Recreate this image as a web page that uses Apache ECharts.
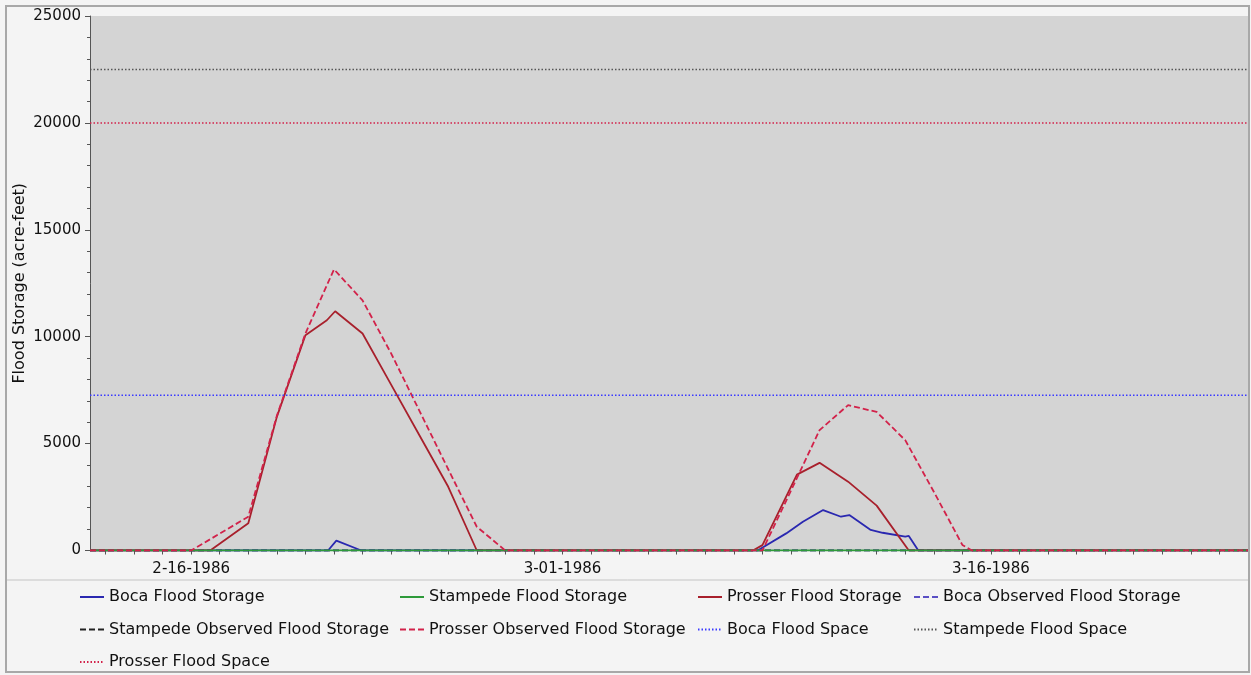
<!DOCTYPE html>
<html>
<head>
<meta charset="utf-8">
<script src="https://cdn.jsdelivr.net/npm/echarts@6/dist/echarts.min.js"></script>
<style>
html,body{margin:0;padding:0;background:#f4f4f4;}
#chart{width:1251px;height:675px;}
</style>
</head>
<body>
<div id="chart"></div>
<script>
// ---- data (date-time, acre-feet) ----
const xStart = '1986-02-12 11:00';
const xEnd = '1986-03-25 00:00';
const labelDates = ['1986-02-16', '1986-03-01', '1986-03-16'];
const yTicks = [0, 5000, 10000, 15000, 20000, 25000];

const bocaStorage = [
  ['1986-02-12 11:00', 0], ['1986-02-20 19:00', 0], ['1986-02-21 02:00', 460], ['1986-02-21 23:00', 0],
  ['1986-03-07 20:00', 0], ['1986-03-08 20:00', 800], ['1986-03-09 10:00', 1345], ['1986-03-10 03:00', 1890],
  ['1986-03-10 18:00', 1580], ['1986-03-11 01:00', 1660], ['1986-03-11 19:00', 960], ['1986-03-12 05:00', 830],
  ['1986-03-13 00:00', 645], ['1986-03-13 03:00', 680], ['1986-03-13 11:00', 0], ['1986-03-25 00:00', 0]
];
const stampedeStorage = [['1986-02-12 11:00', 0], ['1986-03-25 00:00', 0]];
const prosserStorage = [
  ['1986-02-12 11:00', 0], ['1986-02-16 16:00', 0], ['1986-02-18 00:00', 1270], ['1986-02-19 00:00', 6250],
  ['1986-02-20 00:00', 10070], ['1986-02-20 18:00', 10770], ['1986-02-21 01:00', 11190], ['1986-02-22 00:00', 10150],
  ['1986-02-23 00:00', 7760], ['1986-02-24 00:00', 5370], ['1986-02-25 00:00', 2980], ['1986-02-26 00:00', 0],
  ['1986-03-07 16:00', 0], ['1986-03-08 00:00', 250], ['1986-03-09 05:00', 3550], ['1986-03-10 00:00', 4100],
  ['1986-03-11 00:00', 3220], ['1986-03-12 00:00', 2100], ['1986-03-13 03:00', 0], ['1986-03-25 00:00', 0]
];
const bocaObserved = [['1986-02-12 11:00', 0], ['1986-03-25 00:00', 0]];
const stampedeObserved = [['1986-02-12 11:00', 0], ['1986-03-25 00:00', 0]];
const prosserObserved = [
  ['1986-02-12 11:00', 0], ['1986-02-16 00:00', 0], ['1986-02-18 00:00', 1580], ['1986-02-19 00:00', 6300],
  ['1986-02-20 00:00', 10150], ['1986-02-21 00:00', 13150], ['1986-02-22 00:00', 11700], ['1986-02-23 00:00', 9220],
  ['1986-02-24 00:00', 6510], ['1986-02-25 00:00', 3800], ['1986-02-26 00:00', 1110], ['1986-02-27 00:00', 0],
  ['1986-03-08 00:00', 0], ['1986-03-09 00:00', 2800], ['1986-03-10 00:00', 5630], ['1986-03-11 00:00', 6800],
  ['1986-03-12 00:00', 6480], ['1986-03-13 00:00', 5160], ['1986-03-14 00:00', 2750], ['1986-03-15 00:00', 260],
  ['1986-03-15 08:00', 0], ['1986-03-25 00:00', 0]
];
const bocaFloodSpace = 7260;
const stampedeFloodSpace = 22500;
const prosserFloodSpace = 20000;

// ---- helpers ----
const BASE = Date.UTC(1986, 0, 31);
function toDay(s) {
  const parts = s.split(' ');
  const [y, m, d] = parts[0].split('-').map(Number);
  let h = 0, mi = 0;
  if (parts[1]) { [h, mi] = parts[1].split(':').map(Number); }
  return (Date.UTC(y, m - 1, d, h, mi) - BASE) / 864e5;
}
function fmt(day) {
  const dt = new Date(BASE + Math.round(day * 864e5));
  return (dt.getUTCMonth() + 1) + '-' + String(dt.getUTCDate()).padStart(2, '0') + '-' + dt.getUTCFullYear();
}
const conv = arr => arr.map(p => [toDay(p[0]), p[1]]);
const xMin = toDay(xStart), xMax = toDay(xEnd);
const tickDays = [];
for (let d = Math.ceil(xMin); d <= Math.floor(xMax); d++) tickDays.push(d);
const labelDays = labelDates.map(toDay);
const hline = v => [[xMin, v], [xMax, v]];

const FONT = 'DejaVu Sans';
const chart = echarts.init(document.getElementById('chart'));

function mk(name, data, color, type, width) {
  return {
    name: name, type: 'line', data: data, symbol: 'none', animation: false,
    lineStyle: { color: color, type: type, width: width }, itemStyle: { color: color },
    emphasis: { disabled: true }
  };
}
const legendBase = {
  orient: 'vertical', top: 587, itemGap: 12.5, itemWidth: 24, itemHeight: 14, padding: 0,
  selectedMode: false,
  itemStyle: { opacity: 0, color: 'rgba(0,0,0,0)', borderColor: 'rgba(0,0,0,0)', borderWidth: 0 },
  textStyle: { fontFamily: FONT, fontSize: 16, color: '#111', lineHeight: 20 }
};

chart.setOption({
  backgroundColor: '#f4f4f4',
  animation: false,
  textStyle: { fontFamily: FONT },
  graphic: [
    { type: 'rect', shape: { x: 6, y: 6, width: 1243, height: 666 }, style: { fill: 'none', stroke: '#a8a8a8', lineWidth: 2 }, z: 100 },
    { type: 'line', shape: { x1: 7, y1: 580, x2: 1248, y2: 580 }, style: { stroke: '#c4c4c4', lineWidth: 1 }, z: 100 }
  ],
  grid: { left: 90, right: 3, top: 16, bottom: 124.5, show: true, backgroundColor: '#d4d4d4', borderWidth: 0, containLabel: false, outerBoundsMode: 'none' },
  xAxis: {
    type: 'value', min: xMin, max: xMax,
    axisLine: { show: true, lineStyle: { color: '#555', width: 1 } },
    axisTick: { show: true, length: 4, customValues: tickDays, lineStyle: { color: '#555' } },
    axisLabel: { customValues: labelDays, formatter: v => fmt(v), fontFamily: FONT, fontSize: 15, color: '#111', margin: 11 },
    splitLine: { show: false }
  },
  yAxis: {
    type: 'value', min: yTicks[0], max: yTicks[yTicks.length - 1], interval: 5000,
    name: 'Flood Storage (acre-feet)', nameLocation: 'middle', nameGap: 62, nameMoveOverlap: false,
    nameTextStyle: { fontFamily: FONT, fontSize: 16, color: '#111' },
    axisLine: { show: true, lineStyle: { color: '#555', width: 1 } },
    axisTick: { show: true, length: 5, lineStyle: { color: '#555' } },
    minorTick: { show: true, splitNumber: 5, length: 3, lineStyle: { color: '#555' } },
    axisLabel: { formatter: v => String(v), fontFamily: FONT, fontSize: 15, color: '#111', margin: 9 },
    splitLine: { show: false }
  },
  legend: [
    Object.assign({}, legendBase, { left: 79, data: ['Boca Flood Storage', 'Stampede Observed Flood Storage', 'Prosser Flood Space'] }),
    Object.assign({}, legendBase, { left: 399, data: ['Stampede Flood Storage', 'Prosser Observed Flood Storage'] }),
    Object.assign({}, legendBase, { left: 697, data: ['Prosser Flood Storage', 'Boca Flood Space'] }),
    Object.assign({}, legendBase, { left: 913, data: ['Boca Observed Flood Storage', 'Stampede Flood Space'] })
  ],
  series: [
    mk('Stampede Observed Flood Storage', conv(stampedeObserved), '#222222', [6, 3], 1.8),
    mk('Boca Observed Flood Storage', conv(bocaObserved), '#5a4fc4', [6, 3], 1.8),
    mk('Boca Flood Storage', conv(bocaStorage), '#2a28b0', 'solid', 1.8),
    mk('Prosser Flood Storage', conv(prosserStorage), '#a8202c', 'solid', 1.8),
    mk('Stampede Flood Storage', conv(stampedeStorage), '#2e9a3a', 'solid', 1.8),
    mk('Prosser Observed Flood Storage', conv(prosserObserved), '#d2224a', [6, 3], 1.8),
    mk('Boca Flood Space', hline(bocaFloodSpace), '#3a3aff', [1.5, 2], 1.5),
    mk('Stampede Flood Space', hline(stampedeFloodSpace), '#555555', [1.5, 2], 1.5),
    mk('Prosser Flood Space', hline(prosserFloodSpace), '#d2224a', [1.5, 2], 1.5)
  ]
});
</script>
</body>
</html>
